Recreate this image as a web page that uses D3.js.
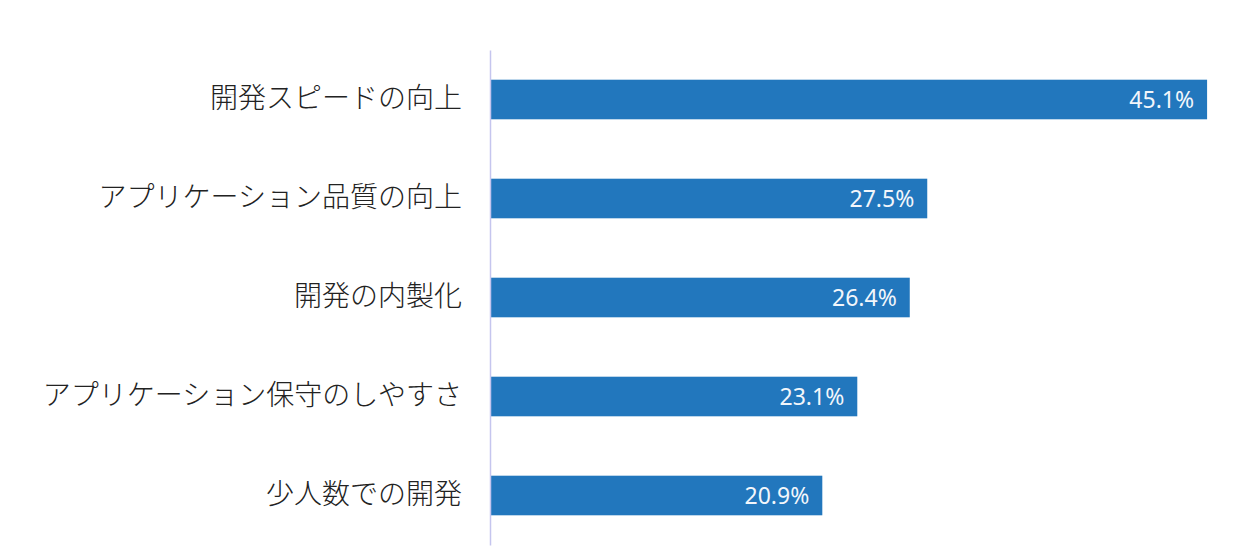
<!DOCTYPE html>
<html>
<head>
<meta charset="utf-8">
<script src="https://cdn.jsdelivr.net/npm/d3@7"></script>
<style>
  body { margin: 0; background: #fff; }
</style>
</head>
<body>
<svg id="chart" width="1260" height="548"></svg>
<script>
const categories = [
    "開発スピードの向上",
    "アプリケーション品質の向上",
    "開発の内製化",
    "アプリケーション保守のしやすさ",
    "少人数での開発"
];
const values = [45.1, 27.5, 26.4, 23.1, 20.9];

const svg = d3.select("#chart");
const data = categories.map((c, i) => ({ name: c, value: values[i] }));

const x = d3.scaleLinear()
    .domain([0, 50])
    .range([490, 490 + 50 * 15.9]);

const y = d3.scaleBand()
    .domain(categories)
    .range([50, 545])
    .paddingInner(0.6)
    .paddingOuter(0.3);

// bars
svg.append("g")
    .selectAll("rect")
    .data(data)
    .join("rect")
    .attr("x", x(0))
    .attr("y", d => y(d.name))
    .attr("width", d => x(d.value) - x(0))
    .attr("height", y.bandwidth())
    .attr("fill", "#2277bd");

// value labels inside bars
svg.append("g")
    .selectAll("text")
    .data(data)
    .join("text")
    .attr("x", d => x(d.value) - 13)
    .attr("y", d => y(d.name) + y.bandwidth() / 2)
    .attr("dy", "0.35em")
    .attr("text-anchor", "end")
    .attr("fill", "#f2f6fb")
    .style("font-family", "'Noto Sans', 'Open Sans', sans-serif")
    .style("font-size", "23px")
    .text(d => d.value.toFixed(1) + "%");

// category axis
const axis = svg.append("g")
    .attr("transform", `translate(${x(0)},0)`)
    .call(d3.axisLeft(y).tickSize(0).tickPadding(28));

axis.select(".domain")
    .attr("stroke", "#c5c5ee")
    .attr("stroke-width", 1.5);

axis.selectAll("text")
    .attr("fill", "#222")
    .style("font-family", "'Noto Sans CJK JP', sans-serif")
    .style("font-weight", 300)
    .style("font-size", "28px");
</script>
</body>
</html>
